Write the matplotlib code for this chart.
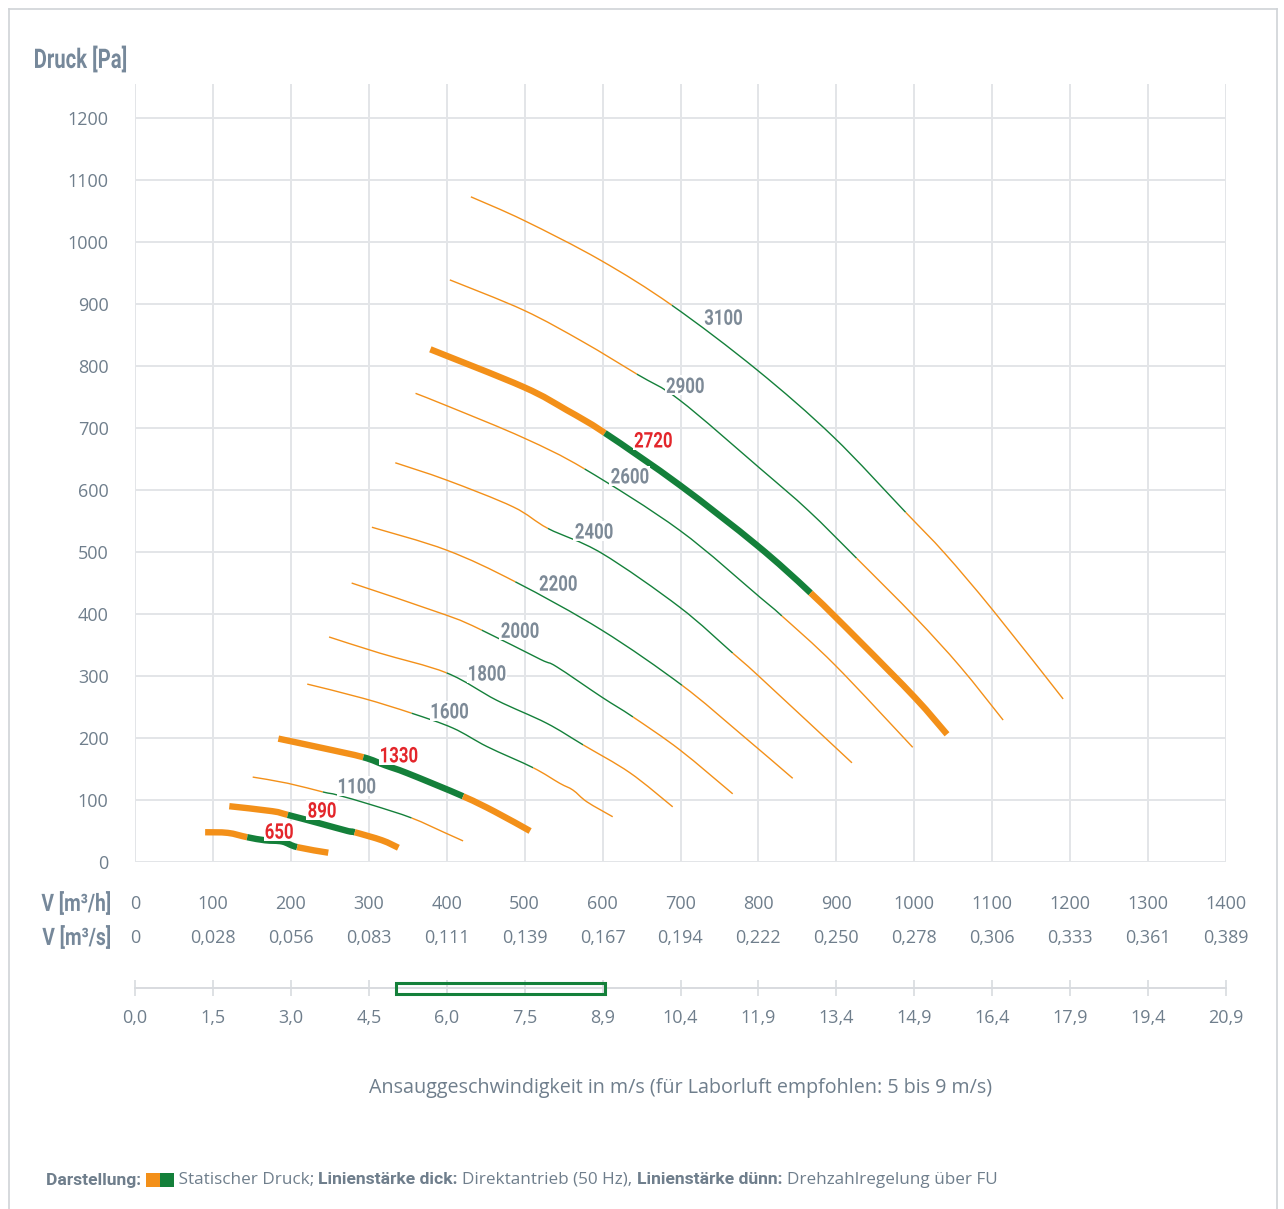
import matplotlib
matplotlib.use("Agg")
import matplotlib.pyplot as plt
from matplotlib.patches import Rectangle, PathPatch
from matplotlib.lines import Line2D
from matplotlib.path import Path
from matplotlib.textpath import TextPath
from matplotlib.font_manager import FontProperties
from matplotlib.transforms import Affine2D, IdentityTransform
import numpy as np

# Achsen
q_ticks = [0, 100, 200, 300, 400, 500, 600, 700, 800, 900, 1000, 1100, 1200, 1300, 1400]
m3s_labels = ['0', '0,028', '0,056', '0,083', '0,111', '0,139', '0,167', '0,194',
              '0,222', '0,250', '0,278', '0,306', '0,333', '0,361', '0,389']
v_labels = ['0,0', '1,5', '3,0', '4,5', '6,0', '7,5', '8,9', '10,4', '11,9',
            '13,4', '14,9', '16,4', '17,9', '19,4', '20,9']
p_ticks = [0, 100, 200, 300, 400, 500, 600, 700, 800, 900, 1000, 1100, 1200]
v_max = 20.9
v_recommended = [5.0, 9.0]

# Kennlinien (Q in m3/h, p in Pa), gruener Bereich von/bis Q
q_650 = [90, 119, 144, 167, 189, 208, 248]
p_650 = [48, 47, 40, 35, 33, 24, 15]
g_650 = [144, 208]

q_890 = [121, 176, 196, 235, 273, 282, 317, 338]
p_890 = [90, 82, 76, 63, 50, 48, 35, 23]
g_890 = [196, 282]

q_1100 = [151, 196, 241, 260, 304, 355, 398, 421]
p_1100 = [137, 127, 113, 108, 92, 71, 47, 34]
g_1100 = [241, 355]

q_1330 = [184, 240, 293, 321, 350, 421, 462, 507]
p_1330 = [199, 184, 169, 156, 143, 106, 81, 50]
g_1330 = [293, 421]

q_1600 = [221, 293, 355, 408, 452, 511, 545, 562, 580, 613]
p_1600 = [287, 264, 240, 216, 186, 152, 127, 116, 97, 73]
g_1600 = [355, 511]

q_1800 = [249, 314, 400, 464, 528, 575, 635, 690]
p_1800 = [363, 337, 305, 261, 224, 189, 144, 89]
g_1800 = [400, 575]

q_2000 = [278, 400, 445, 520, 541, 599, 639, 699, 767]
p_2000 = [450, 398, 374, 327, 315, 266, 234, 181, 110]
g_2000 = [445, 639]

q_2200 = [304, 400, 488, 599, 702, 776, 844]
p_2200 = [540, 503, 452, 374, 285, 208, 135]
g_2200 = [488, 702]

q_2400 = [334, 400, 485, 530, 599, 699, 767, 802, 920]
p_2400 = [644, 616, 573, 538, 498, 411, 337, 298, 160]
g_2400 = [530, 767]

q_2600 = [360, 404, 499, 577, 699, 802, 830, 898, 998]
p_2600 = [756, 734, 684, 634, 535, 427, 397, 318, 185]
g_2600 = [577, 830]

q_2720 = [379, 499, 554, 603, 699, 798, 867, 930, 1001, 1042]
p_2720 = [827, 766, 729, 692, 608, 511, 434, 356, 265, 206]
g_2720 = [603, 867]

q_2900 = [404, 499, 575, 644, 699, 802, 864, 926, 1001, 1059, 1114]
p_2900 = [939, 890, 839, 787, 745, 635, 567, 490, 395, 315, 229]
g_2900 = [644, 926]

q_3100 = [431, 499, 597, 689, 798, 896, 989, 1039, 1101, 1191]
p_3100 = [1073, 1035, 971, 898, 794, 686, 564, 498, 406, 263]
g_3100 = [689, 989]

rpm = [650, 890, 1100, 1330, 1600, 1800, 2000, 2200, 2400, 2600, 2720, 2900, 3100]
direct_drive = [650, 890, 1330, 2720]

curves = {
    650: (q_650, p_650, g_650), 890: (q_890, p_890, g_890),
    1100: (q_1100, p_1100, g_1100), 1330: (q_1330, p_1330, g_1330),
    1600: (q_1600, p_1600, g_1600), 1800: (q_1800, p_1800, g_1800),
    2000: (q_2000, p_2000, g_2000), 2200: (q_2200, p_2200, g_2200),
    2400: (q_2400, p_2400, g_2400), 2600: (q_2600, p_2600, g_2600),
    2720: (q_2720, p_2720, g_2720), 2900: (q_2900, p_2900, g_2900),
    3100: (q_3100, p_3100, g_3100),
}

# Beschriftungspositionen
label_pos = {650: (185, 50), 890: (240, 84), 1100: (285, 123), 1330: (339, 173),
             1600: (404, 244), 1800: (452, 305), 2000: (494, 374), 2200: (543, 450),
             2400: (589, 534), 2600: (635, 623), 2720: (665, 681), 2900: (706, 769),
             3100: (755, 879)}

ORANGE = '#f39019'
GREEN = '#14803a'
RED = '#e3262b'
GREY = '#7d8a97'
TXT = '#6f7e8c'
HEAD = '#76889a'
GRID = '#e3e5e8'
BODY = ['Open Sans', 'DejaVu Sans']
BOLD = FontProperties(family=['Roboto', 'DejaVu Sans'], weight='bold')

W, H = 1284, 1209
fig = plt.figure(figsize=(W / 100, H / 100), dpi=100)


def fx(px):
    return px / W


def fy(py):
    return 1 - py / H


def cond_text(px, py, s, size, color, sx=0.78, ha='center', bg=False):
    # schmale Fettschrift: Textpfad horizontal gestaucht, px/py in Pixeln
    tp = TextPath((0, 0), s, size=size, prop=BOLD)
    ext = tp.get_extents()
    w = ext.width * sx
    h = ext.height
    if ha == 'center':
        x0 = px - w / 2
    elif ha == 'left':
        x0 = px
    else:
        x0 = px - w
    tr = Affine2D().translate(-ext.x0, -(ext.y0 + ext.y1) / 2).scale(sx, 1).translate(x0, py)
    if bg:
        fig.add_artist(Rectangle((x0 - 2, py - h / 2 - 2), w + 4, h + 4,
                                 transform=IdentityTransform(), fc='white', ec='none', zorder=5))
    fig.add_artist(PathPatch(tr.transform_path(tp), fc=color, ec='none', lw=0,
                             transform=IdentityTransform(), zorder=6))


def smooth_piece(x, y, i0, i1):
    # Catmull-Rom als Bezier durch die Messpunkte i0..i1
    n = len(x)
    pts = np.column_stack([x, y]).astype(float)
    verts = [pts[i0]]
    codes = [Path.MOVETO]
    for i in range(i0, i1):
        a = pts[max(i - 1, 0)]
        b = pts[i]
        c = pts[i + 1]
        d = pts[min(i + 2, n - 1)]
        verts += [b + (c - a) / 6, c - (d - b) / 6, c]
        codes += [Path.CURVE4] * 3
    return Path(verts, codes)


# Rahmen
for xs, ys in [([9, 9], [9, H]), ([9, 1277], [9, 9]), ([1277, 1277], [9, H])]:
    fig.add_artist(Line2D([fx(x) for x in xs], [fy(y) for y in ys], color='#cfd3d7', lw=1.2))

ax = fig.add_axes([fx(135), fy(862), fx(1226) - fx(135), fy(84) - fy(862)])
ax.set_xlim(0, 1400)
ax.set_ylim(0, 1255)
for s in ax.spines.values():
    s.set_visible(False)
ax.set_xticks(q_ticks)
ax.set_yticks(p_ticks)
ax.grid(True, color=GRID, lw=1.4)
ax.set_axisbelow(True)
ax.set_xticklabels([str(q) for q in q_ticks], fontsize=13, color=TXT, family=BODY)
ax.set_yticklabels([str(p) for p in p_ticks], fontsize=13, color=TXT, family=BODY)
ax.tick_params(axis='both', length=0)
ax.tick_params(axis='x', pad=24)
ax.tick_params(axis='y', pad=19)

sec = ax.secondary_xaxis(-0.0437)
sec.set_xticks(q_ticks)
sec.set_xticklabels(m3s_labels, fontsize=13, color=TXT, family=BODY)
sec.tick_params(length=0, pad=24)
sec.spines['bottom'].set_visible(False)

for n in rpm:
    q, p, g = curves[n]
    lw = 4.6 if n in direct_drive else 1.0
    i_a = q.index(g[0])
    i_b = q.index(g[1])
    for i0, i1, c in [(0, i_a, ORANGE), (i_a, i_b, GREEN), (i_b, len(q) - 1, ORANGE)]:
        if i1 > i0:
            ax.add_patch(PathPatch(smooth_piece(q, p, i0, i1), fill=False, ec=c, lw=lw,
                                   capstyle='butt', joinstyle='round', zorder=3))

fig.canvas.draw()
for n in rpm:
    lx, ly = label_pos[n]
    px, py = ax.transData.transform((lx, ly))
    cond_text(px, py, str(n), 21.5, RED if n in direct_drive else GREY, bg=True)

cond_text(35, H - 59, 'Druck [Pa]', 27, HEAD, sx=0.75, ha='left')
cond_text(110, H - 903, 'V [m³/h]', 24, HEAD, sx=0.8, ha='right')
cond_text(110, H - 937, 'V [m³/s]', 24, HEAD, sx=0.8, ha='right')

# Geschwindigkeitsachse
axv = fig.add_axes([fx(135), fy(998), fx(1226) - fx(135), fy(978) - fy(998)])
axv.set_xlim(0, v_max)
axv.set_ylim(0, 1)
axv.patch.set_visible(False)
for k in ['top', 'left', 'right']:
    axv.spines[k].set_visible(False)
axv.spines['bottom'].set_position(('data', 0.5))
axv.spines['bottom'].set_color('#d8dbdf')
axv.spines['bottom'].set_linewidth(1.4)
axv.set_yticks([])
axv.set_xticks([q * v_max / 1400 for q in q_ticks])
axv.set_xticklabels(v_labels, fontsize=13, color=TXT, family=BODY)
axv.tick_params(axis='x', direction='inout', length=12, width=1.2, color='#d8dbdf', pad=9)
axv.add_patch(Rectangle((v_recommended[0], 0.2), v_recommended[1] - v_recommended[0], 0.55,
                        fill=False, ec=GREEN, lw=2.2, clip_on=False, zorder=4))

fig.text(fx(681), fy(1088), 'Ansauggeschwindigkeit in m/s (für Laborluft empfohlen: 5 bis 9 m/s)',
         fontsize=14.2, color=TXT, family=BODY, ha='center', va='center')

# Fusszeile
r = fig.canvas.get_renderer()
x = 46
y = fy(1180)
pieces = [('Darstellung: ', True), (None, None), (' Statischer Druck; ', False),
          ('Linienstärke dick: ', True), ('Direktantrieb (50 Hz), ', False),
          ('Linienstärke dünn: ', True), ('Drehzahlregelung über FU', False)]
for txt, bold in pieces:
    if txt is None:
        for c in [ORANGE, GREEN]:
            fig.add_artist(Rectangle((fx(x), fy(1187)), fx(14), fy(1173) - fy(1187),
                                     transform=fig.transFigure, fc=c, ec='none'))
            x += 14
        continue
    t = fig.text(fx(x), y, txt, fontsize=12.6 if bold else 12.3,
                 family=['Roboto', 'DejaVu Sans'] if bold else BODY,
                 fontweight='bold' if bold else 'normal', color=TXT, ha='left', va='center')
    x = t.get_window_extent(r).x1

fig.savefig('out.png', dpi=100)
